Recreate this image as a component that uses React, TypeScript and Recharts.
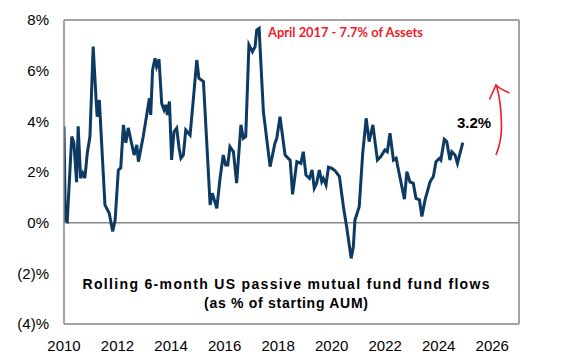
import { LineChart, Line, XAxis, YAxis, ReferenceLine, Customized } from 'recharts';

// decimal year
const YEARS = [
  2010.0, 2010.05, 2010.12, 2010.29, 2010.37, 2010.47, 2010.53, 2010.62, 2010.7, 2010.78, 2010.87, 2010.97,
  2011.09, 2011.2, 2011.24, 2011.32, 2011.53, 2011.69, 2011.82, 2011.91,
  2012.03, 2012.12, 2012.22, 2012.31, 2012.4, 2012.62, 2012.72, 2012.78, 2012.96,
  2013.11, 2013.19, 2013.24, 2013.31, 2013.4, 2013.46, 2013.55, 2013.65, 2013.74, 2013.81, 2013.86, 2013.94,
  2014.02, 2014.11, 2014.21, 2014.3, 2014.37, 2014.46, 2014.55, 2014.71, 2014.83, 2014.96,
  2015.04, 2015.21, 2015.46, 2015.54, 2015.71, 2015.83, 2015.95,
  2016.04, 2016.12, 2016.2, 2016.33, 2016.45, 2016.61, 2016.7, 2016.79, 2016.91,
  2017.04, 2017.14, 2017.2, 2017.29, 2017.45, 2017.7, 2017.88, 2017.95,
  2018.07, 2018.26, 2018.38, 2018.45, 2018.54, 2018.7, 2018.85, 2018.94,
  2019.04, 2019.17, 2019.27, 2019.35, 2019.44, 2019.54, 2019.63, 2019.69, 2019.79, 2019.88,
  2020.0, 2020.13, 2020.29, 2020.44, 2020.56, 2020.73, 2020.81, 2020.87,
  2021.03, 2021.16, 2021.29, 2021.4, 2021.54, 2021.71, 2021.83, 2021.99,
  2022.08, 2022.18, 2022.31, 2022.41, 2022.53, 2022.72, 2022.81, 2022.93,
  2023.05, 2023.15, 2023.28, 2023.37, 2023.49, 2023.68, 2023.8, 2023.9,
  2024.02, 2024.08, 2024.21, 2024.3, 2024.42, 2024.49, 2024.61, 2024.7, 2024.9,
];

// rolling 6-month flows, % of starting AUM
const FLOWS = [
  3.8, 0.1, 0.05, 3.4, 3.15, 1.6, 3.8, 1.76, 1.96, 1.76, 2.75, 3.4,
  6.95, 4.84, 4.18, 4.84, 0.7, 0.37, -0.35, 0.1,
  2.08, 2.16, 3.86, 3.15, 3.74, 2.67, 3.07, 2.41, 3.4,
  4.38, 4.91, 4.25, 6.03, 6.49, 6.16, 6.45, 4.71, 4.45, 4.65, 4.25, 4.78,
  2.48, 3.59, 3.73, 2.94, 2.54, 2.67, 3.66, 3.46, 4.84, 6.42,
  5.7, 5.57, 0.7, 1.16, 0.57, 1.75, 2.67,
  2.28, 2.28, 3.0, 2.8, 1.56, 3.86, 3.33, 3.4, 7.02,
  6.75, 6.95, 7.6, 7.67, 4.38, 2.21, 3.13, 3.33,
  4.18, 2.67, 2.54, 2.47, 1.12, 2.41, 2.34, 2.8,
  1.88, 1.75, 2.08, 1.36, 1.56, 2.08, 1.62, 1.75, 1.49, 2.19,
  2.15, 2.05, 1.82, 0.63, -0.16, -1.41, -0.95, 0.1,
  0.63, 2.74, 4.12, 3.2, 3.86, 2.47, 2.6, 2.87,
  2.8, 3.53, 2.47, 2.54, 1.9, 0.93, 2.01, 1.6,
  1.56, 0.96, 0.9, 0.24, 0.9, 1.62, 1.82, 2.41,
  2.54, 2.47, 3.29, 3.2, 2.47, 2.8, 2.67, 2.34, 3.16,
];

const X_TICKS = [2010, 2012, 2014, 2016, 2018, 2020, 2022, 2024, 2026];
const Y_TICKS = [-4, -2, 0, 2, 4, 6, 8];

const data = YEARS.map((year, i) => ({ year, flow: FLOWS[i] }));

const fmtPct = (v: number) => (v < 0 ? `(${-v})%` : `${v}%`);

const GRAY = '#868686';
const tickStyle = { fontFamily: '"Liberation Sans", Arial, sans-serif', fontSize: 15, fill: '#000' };

function Notes() {
  return (
    <g>
      <text x={268} y={37} fill="#ec1c2a" fontFamily="Lato, sans-serif" fontWeight={700} fontSize={13}
        textLength={155} lengthAdjust="spacingAndGlyphs">
        April 2017 - 7.7% of Assets
      </text>
      <text x={457} y={128} fill="#000" fontFamily='"Liberation Sans", Arial, sans-serif' fontWeight={700} fontSize={15}>
        3.2%
      </text>
      <text x={286} y={289} textAnchor="middle" fill="#000" fontFamily='"Liberation Sans", Arial, sans-serif'
        fontWeight={700} fontSize={14} textLength={407} lengthAdjust="spacing">
        Rolling 6-month US passive mutual fund fund flows
      </text>
      <text x={286} y={308} textAnchor="middle" fill="#000" fontFamily='"Liberation Sans", Arial, sans-serif'
        fontWeight={700} fontSize={14} textLength={164} lengthAdjust="spacing">
        (as % of starting AUM)
      </text>
      <path d="M496,155 Q502,140 501.5,125 Q501,100 496.5,86" fill="none" stroke="#ec1c2a" strokeWidth={1.6} />
      <path d="M489.5,99.5 L496,85 Q500,89 509.5,93" fill="none" stroke="#ec1c2a" strokeWidth={1.6} />
    </g>
  );
}

export default function App() {
  return (
    <div style={{ position: 'absolute', left: 0, top: 0, width: 564, height: 354, background: '#fff' }}>
      <LineChart width={564} height={354} data={data} margin={{ top: 20, right: 45, bottom: 0, left: 8 }}>
        <XAxis
          type="number"
          dataKey="year"
          domain={[2010, 2027]}
          ticks={X_TICKS}
          allowDataOverflow
          height={30}
          tickLine={false}
          tickMargin={10}
          axisLine={{ stroke: GRAY, strokeWidth: 1.5 }}
          tick={tickStyle}
        />
        <YAxis
          type="number"
          domain={[-4, 8]}
          ticks={Y_TICKS}
          width={56}
          tickLine={false}
          tickMargin={9}
          tickFormatter={fmtPct}
          axisLine={{ stroke: GRAY, strokeWidth: 1.5 }}
          tick={tickStyle}
        />
        <ReferenceLine y={8} stroke={GRAY} strokeWidth={1.5} />
        <ReferenceLine x={2027} stroke={GRAY} strokeWidth={1.5} />
        <ReferenceLine y={0} stroke={GRAY} strokeWidth={1.5} />
        <Line
          type="linear"
          dataKey="flow"
          stroke="#0d3a63"
          strokeWidth={3}
          dot={false}
          isAnimationActive={false}
        />
        <Customized component={<Notes />} />
      </LineChart>
    </div>
  );
}
